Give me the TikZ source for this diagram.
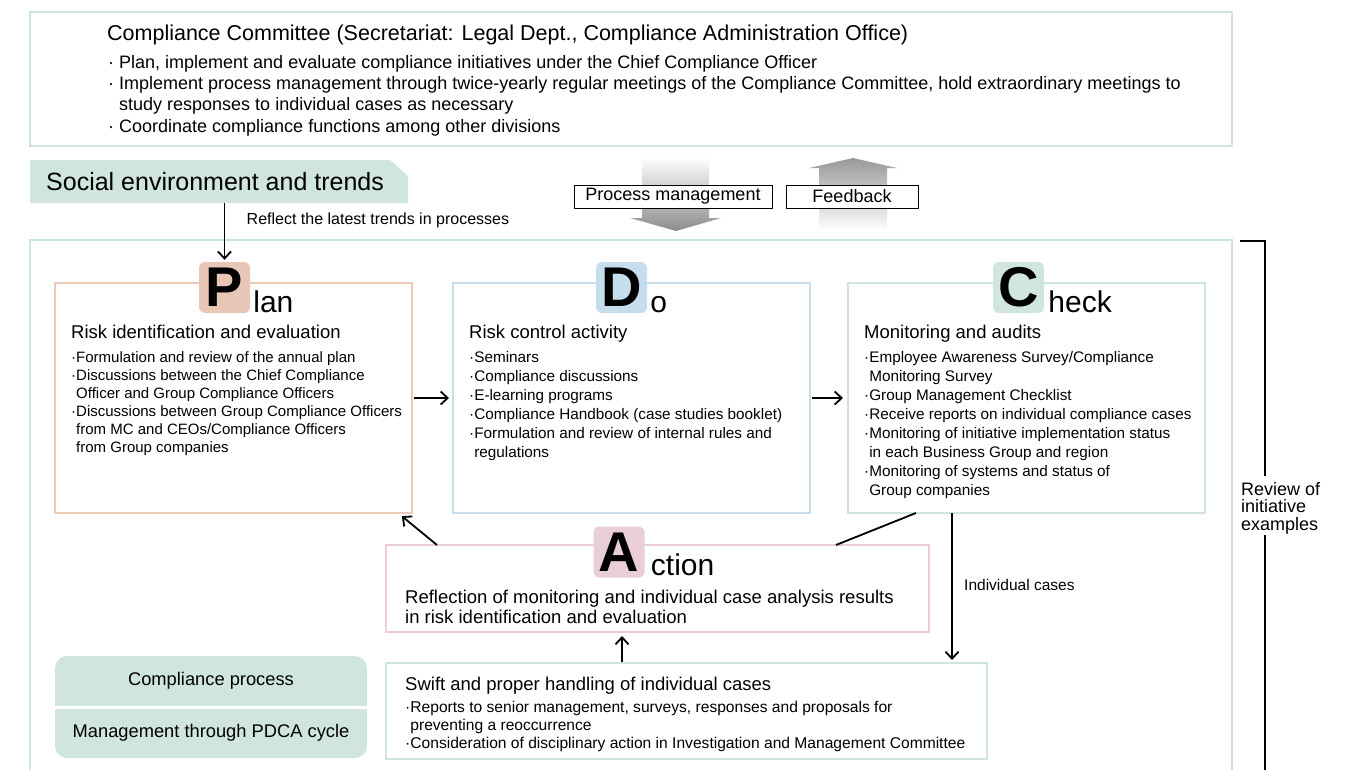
\documentclass[tikz,border=0pt]{standalone}
\usepackage{fontspec}
\setmainfont{Liberation Sans}
\usepackage{tikz}
\usetikzlibrary{arrows.meta,positioning}

\definecolor{grnline}{RGB}{206,229,220}
\definecolor{grnfill}{RGB}{208,230,221}
\definecolor{planline}{RGB}{236,202,184}
\definecolor{planfill}{RGB}{233,199,182}
\definecolor{doline}{RGB}{198,221,236}
\definecolor{dofill}{RGB}{197,221,236}
\definecolor{actline}{RGB}{234,205,216}
\definecolor{actfill}{RGB}{233,205,217}

\newcommand{\fs}[2]{\fontsize{#1}{#2}\selectfont}
\newcommand{\ind}{\phantom{·}}

\begin{document}
\begin{tikzpicture}[x=1pt,y=-1pt,>={Straight Barb[length=7pt,width=13pt]},
    arr/.style={->,line width=1.8pt,shorten >=2pt,shorten <=2pt},
    pdcabox/.style={draw,line width=2.5pt,minimum width=357,minimum height=230,anchor=north west,inner sep=0,outer sep=0},
    badge/.style={minimum size=51,inner sep=0,rounded corners=6,font=\fs{56}{56}\bfseries},
    rest/.style={anchor=base west,inner sep=0,font=\fs{30}{30}},
    hd/.style={anchor=north west,inner sep=0,align=left,font=\fs{18.5}{20}},
    bl/.style={anchor=north west,inner sep=0,align=left,font=\fs{15.3}{19}},
    tag/.style={draw,line width=1pt,inner sep=0,outer sep=0,minimum height=23,font=\fs{18}{18}}]

  \useasboundingbox (0,0) rectangle (1348,769);

  % committee
  \draw[grnline,line width=2.5pt] (30,12) rectangle (1232,146);
  \node[anchor=north west,inner sep=0,font=\fs{21.5}{22}] (cttl) at (107,25)
    {Compliance Committee (Secretariat: Legal Dept., Compliance Administration Office)};
  \node[anchor=north west,inner sep=0,align=left,font=\fs{18}{21.3}] (cbul) at (108,55)
    {· Plan, implement and evaluate compliance initiatives under the Chief Compliance Officer\\
     · Implement process management through twice-yearly regular meetings of the Compliance Committee, hold extraordinary meetings to\\
     \phantom{· }study responses to individual cases as necessary\\
     · Coordinate compliance functions among other divisions};

  % social environment
  \node[minimum width=378,minimum height=43,anchor=north west,inner sep=0,outer sep=0] (social) at (30,160) {};
  \fill[grnfill] (social.south west) -- (social.north west) -- ([xshift=-18]social.north east)
    -- ([yshift=-16]social.north east) -- (social.south east) -- cycle;
  \node[anchor=west,inner sep=0,font=\fs{25}{25}] (soctxt) at ([xshift=16]social.west) {Social environment and trends};

  % process management / feedback
  \shade[top color=white,bottom color=black!45] (642,157) -- (709,157) -- (709,218) -- (721,218)
    -- (676,231) -- (630,218) -- (642,218) -- cycle;
  \shade[top color=black!40,bottom color=white] (853,158) -- (897,168) -- (887,168) -- (887,231)
    -- (819,231) -- (819,168) -- (809,168) -- cycle;
  \node[tag,fill=white,minimum width=198,anchor=north west] (pm) at (574,185) {Process management};
  \node[tag,fill=white,minimum width=132,right=14 of pm] (fb) {Feedback};

  % main frame
  \draw[grnline,line width=2.5pt] (30,240) rectangle (1232,790);
  \draw[line width=2pt] (1240,241) -| (1265,476);
  \draw[line width=2pt] (1265,535) -- (1265,790);
  \node[anchor=north west,inner sep=0,align=left,font=\fs{18}{17.5}] (review) at (1241,482)
    {Review of\\initiative\\examples};

  % P D C
  \node[pdcabox,planline] (plan) at (55,283) {};
  \node[pdcabox,doline,right=41 of plan] (do) {};
  \node[pdcabox,grnline,right=38 of do] (chk) {};

  \node[badge,fill=planfill] (pbadge) at ([xshift=-9,yshift=-4.5]plan.north) {P};
  \node[rest] (prest) at ([xshift=3,yshift=1]pbadge.south east) {lan};
  \node[badge,fill=dofill] (dbadge) at ([xshift=-10,yshift=-4.5]do.north) {D};
  \node[rest] (drest) at ([xshift=3,yshift=1]dbadge.south east) {o};
  \node[badge,fill=grnfill] (cbadge) at ([xshift=-8,yshift=-4.5]chk.north) {C};
  \node[rest] (crest) at ([xshift=4,yshift=1]cbadge.south east) {heck};

  \node[hd] (planhd) at ([xshift=16,yshift=-42]plan.north west) {Risk identification and evaluation};
  \node[bl,font=\fs{15}{18}] (planbl) at ([xshift=16,yshift=-68]plan.north west)
    {·Formulation and review of the annual plan\\
     ·Discussions between the Chief Compliance\\
     \ind Officer and Group Compliance Officers\\
     ·Discussions between Group Compliance Officers\\
     \ind from MC and CEOs/Compliance Officers\\
     \ind from Group companies};

  \node[hd] (dohd) at ([xshift=16,yshift=-42]do.north west) {Risk control activity};
  \node[bl] (dobl) at ([xshift=16,yshift=-68]do.north west)
    {·Seminars\\
     ·Compliance discussions\\
     ·E-learning programs\\
     ·Compliance Handbook (case studies booklet)\\
     ·Formulation and review of internal rules and\\
     \ind regulations};

  \node[hd] (chkhd) at ([xshift=16,yshift=-42]chk.north west) {Monitoring and audits};
  \node[bl] (chkbl) at ([xshift=16,yshift=-68]chk.north west)
    {·Employee Awareness Survey/Compliance\\
     \ind Monitoring Survey\\
     ·Group Management Checklist\\
     ·Receive reports on individual compliance cases\\
     ·Monitoring of initiative implementation status\\
     \ind in each Business Group and region\\
     ·Monitoring of systems and status of\\
     \ind Group companies};

  % A
  \node[draw,actline,line width=2.5pt,minimum width=543,minimum height=87,anchor=north west,inner sep=0,outer sep=0] (act) at (386,545) {};
  \node[badge,fill=actfill] (abadge) at ([xshift=-38.5,yshift=-7]act.north) {A};
  \node[rest] (arest) at ([xshift=6,yshift=2]abadge.south east) {ction};
  \node[hd] (acttxt) at ([xshift=19,yshift=-45]act.north west)
    {Reflection of monitoring and individual case analysis results\\
     in risk identification and evaluation};

  % individual cases
  \node[draw,grnline,line width=2.5pt,minimum width=601,minimum height=96,anchor=north west,inner sep=0,outer sep=0] (swift) at (386,663) {};
  \node[hd] (swifthd) at ([xshift=19,yshift=-14]swift.north west) {Swift and proper handling of individual cases};
  \node[bl,font=\fs{15.6}{18}] (swiftbl) at ([xshift=19,yshift=-38]swift.north west)
    {·Reports to senior management, surveys, responses and proposals for\\
     \ind preventing a reoccurrence\\
     ·Consideration of disciplinary action in Investigation and Management Committee};

  % legend
  \fill[grnfill,rounded corners=12] (55,656) rectangle (367,758);
  \draw[white,line width=3pt] (55,707) -- (367,707);
  \node[font=\fs{18.3}{18}] (leg1) at (211,681) {Compliance process};
  \node[font=\fs{18.3}{18}] (leg2) at (211,733) {Management through PDCA cycle};

  % connectors
  \draw[arr,shorten <=0pt] (pbadge.north |- social.south) -- node[pos=0.29,right=18,font=\fs{16}{16}] (trend) {Reflect the latest trends in processes} (pbadge.north);
  \draw[arr,shorten >=4pt] (plan.east) -- (do.west);
  \draw[arr,shorten >=5pt] (do.east) -- (chk.west);
  \draw[arr,shorten <=0pt,shorten >=5pt] ([xshift=51]act.north west) -- ([xshift=-14]plan.south east);
  \draw[line width=1.8pt] ([xshift=68]chk.south west) -- ([xshift=-93]act.north east);
  \draw[arr,shorten <=0pt,shorten >=3pt] ([xshift=104]chk.south west) -- node[right=8,pos=0.48,font=\fs{15.5}{16}] (indiv) {Individual cases} ([xshift=-35]swift.north east);
  \draw[arr,shorten <=1pt,shorten >=4pt] ([xshift=236]swift.north west) -- ([xshift=236]act.south west);
\end{tikzpicture}
\end{document}
